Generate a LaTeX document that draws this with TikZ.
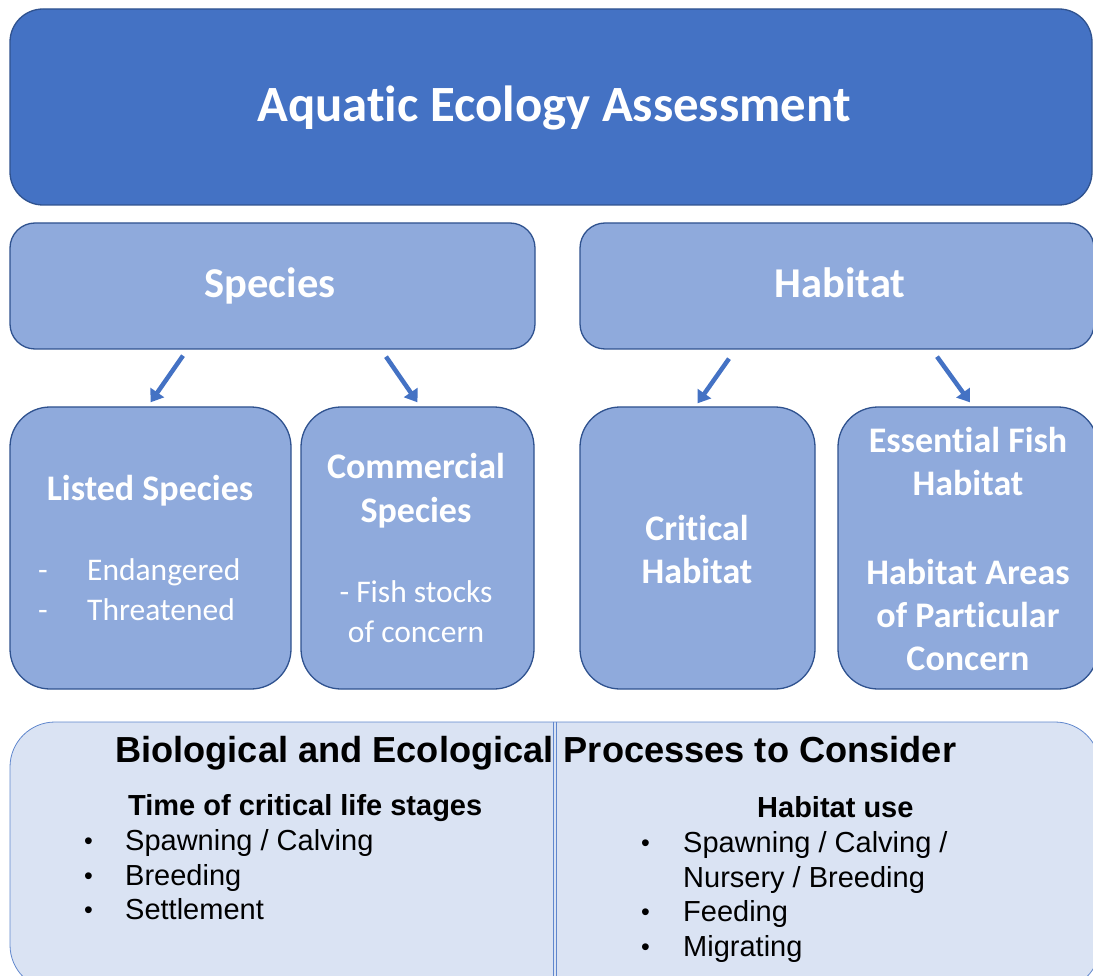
\documentclass[tikz,border=0pt]{standalone}
\usepackage{fontspec}
\setmainfont{Carlito}[Ligatures=NoCommon]
\newfontfamily\arial{Liberation Sans}
\usetikzlibrary{arrows.meta}
\definecolor{darkblue}{HTML}{4472C4}
\definecolor{borderblue}{HTML}{2F528F}
\definecolor{midblue}{HTML}{8FAADC}
\definecolor{lightblue}{HTML}{DAE3F3}
\tikzset{
  topbox/.style={draw=borderblue, line width=1.3pt, fill=darkblue, rounded corners=33pt, inner sep=0pt},
  catbox/.style={draw=borderblue, line width=1.3pt, fill=midblue, rounded corners=25pt, inner sep=0pt},
  subbox/.style={draw=borderblue, line width=1.3pt, fill=midblue, rounded corners=40pt, inner sep=0pt},
  procbox/.style={draw=darkblue!85, line width=0.8pt, fill=lightblue, rounded corners=45pt, inner sep=0pt},
  arr/.style={draw=darkblue, line width=4.5pt, -{Triangle[length=12pt,width=16pt]}},
  wtxt/.style={text=white, inner sep=0pt, anchor=base, font=\bfseries\fontsize{36}{43}\selectfont},
  wreg/.style={text=white, inner sep=0pt, anchor=base, font=\fontsize{31.5}{40}\selectfont},
  btxt/.style={text=black, inner sep=0pt, anchor=base west, font=\arial\fontsize{29}{35}\selectfont},
  bullet/.style={text=black, inner sep=0pt, anchor=base west, font=\arial\fontsize{25}{30}\selectfont},
  bhead/.style={text=black, inner sep=0pt, anchor=base west, font=\arial\bfseries\fontsize{29}{35}\selectfont},
}
\begin{document}
\begin{tikzpicture}[x=1pt,y=-1pt]
\useasboundingbox (0,0) rectangle (1093,976);
\clip (0,0) rectangle (1093,976);
% boxes
\node[topbox, minimum width=1082pt, minimum height=196pt] (top) at (551,107) {};
\node[catbox, minimum width=525pt, minimum height=126pt] (species) at (272.5,286) {};
\node[catbox, minimum width=514pt, minimum height=126pt] (habitat) at (837,286) {};
\node[subbox, minimum width=281pt, minimum height=282pt] (listed) at (150.5,548) {};
\node[subbox, minimum width=233pt, minimum height=282pt] (commercial) at (417.5,548) {};
\node[subbox, minimum width=235pt, minimum height=282pt] (critical) at (697.5,548) {};
\node[subbox, minimum width=260pt, minimum height=282pt] (essential) at (968,548) {};
\node[procbox, minimum width=1090pt, minimum height=268pt] (proc) at (555,856) {};
\draw[darkblue!85, line width=0.8pt] ([xshift=-1.5pt]proc.north) -- ([xshift=-1.5pt]proc.south);
\draw[darkblue!85, line width=0.8pt] ([xshift=1.5pt]proc.north) -- ([xshift=1.5pt]proc.south);
% arrows
\draw[arr] ([xshift=-89.5pt,yshift=-6pt]species.south) -- ([yshift=4pt]listed.north);
\draw[arr] ([xshift=113.5pt,yshift=-7pt]species.south) -- ([yshift=4pt]commercial.north);
\draw[arr] ([xshift=-108pt,yshift=-9pt]habitat.south) -- ([yshift=3pt]critical.north);
\draw[arr] ([xshift=100pt,yshift=-7pt]habitat.south) -- ([xshift=2pt,yshift=4pt]essential.north);
% top texts
\node[wtxt, font=\bfseries\fontsize{50.8}{60}\selectfont] (ttitle) at (554,122) {Aquat\kern0pt ic Ecology Assessment};
\node[wtxt, font=\bfseries\fontsize{42.5}{50}\selectfont] (tspecies) at (270,298) {Species};
\node[wtxt, font=\bfseries\fontsize{42.5}{50}\selectfont] (thabitat) at (840,298) {Habitat};
% listed
\node[wtxt] (tlisted) at (150,500) {Listed Species};
\node[wreg, anchor=base west] (d1) at (38,580) {-};
\node[wreg, anchor=base west] (tend) at (87,580) {Endangered};
\node[wreg, anchor=base west] (d2) at (38,620) {-};
\node[wreg, anchor=base west] (tthr) at (87,620) {Threatened};
% commercial
\node[wtxt] (tcom1) at (416,478) {Commercial};
\node[wtxt] (tcom2) at (416,522) {Species};
\node[wreg] (tfish1) at (416,602) {- Fish stocks};
\node[wreg] (tfish2) at (416,642) {of concern};
% critical
\node[wtxt] (tcrit1) at (697,540) {Crit\kern0pt ical};
\node[wtxt] (tcrit2) at (697,583) {Habitat};
% essential
\node[wtxt] (tess1) at (968,452) {Essent\kern0pt ial Fish};
\node[wtxt] (tess2) at (968,495) {Habitat};
\node[wtxt] (tess3) at (968,584) {Habitat Areas};
\node[wtxt] (tess4) at (968,627) {of Part\kern0pt icular};
\node[wtxt] (tess5) at (968,670) {Concern};
% bottom
\node[bhead, font=\arial\bfseries\fontsize{36.2}{42}\selectfont] (ptitle) at (115,762) {Biological and Ecological Processes to Consider};
\node[bhead] (lhead) at (128,815) {Time of critical life stages};
\node[bullet] (lb1) at (84,849) {•};
\node[btxt] (l1) at (125,850) {Spawning / Calving};
\node[bullet] (lb2) at (84,884) {•};
\node[btxt] (l2) at (125,885) {Breeding};
\node[bullet] (lb3) at (84,918) {•};
\node[btxt] (l3) at (125,919) {Settlement};
\node[bhead] (rhead) at (757,817) {Habitat use};
\node[bullet] (rb1) at (641,851) {•};
\node[btxt] (r1) at (683,852) {Spawning / Calving /};
\node[btxt] (r1b) at (683,887) {Nursery / Breeding};
\node[bullet] (rb2) at (641,920) {•};
\node[btxt] (r2) at (683,921) {Feeding};
\node[bullet] (rb3) at (641,955) {•};
\node[btxt] (r3) at (683,956) {Migrating};
\end{tikzpicture}
\end{document}
